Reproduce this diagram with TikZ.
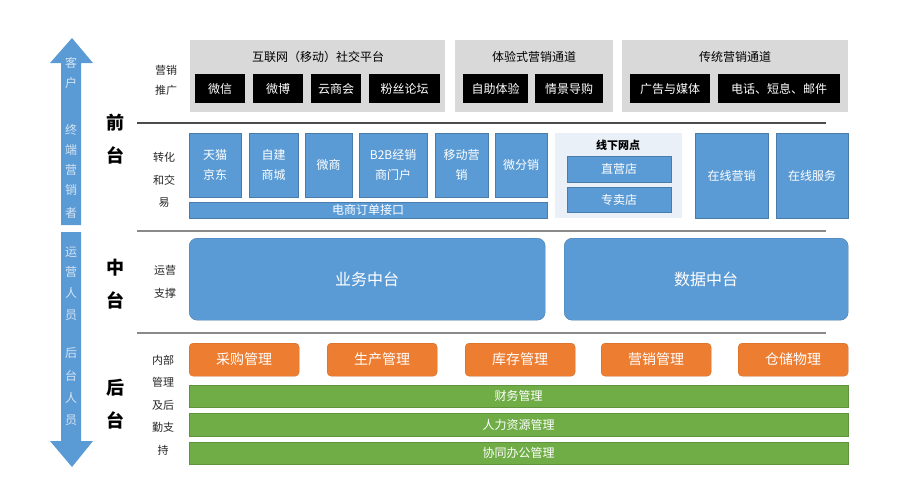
\documentclass[tikz,border=0pt]{standalone}
\usepackage{fontspec}
\setmainfont{Noto Sans CJK SC}
\usepackage{tikz}
\usetikzlibrary{positioning}
\definecolor{cBlue}{HTML}{5B9BD5}
\definecolor{cOrange}{HTML}{ED7D31}
\definecolor{cGreen}{HTML}{70AD47}
\definecolor{cChan}{HTML}{D9D9D9}
\definecolor{cPanel}{HTML}{E9F0F8}
\definecolor{cArrTxt}{HTML}{D4E4F4}
\definecolor{cRule}{HTML}{8A8A8A}

\begin{document}
\begin{tikzpicture}[
  x=1pt, y=-1pt,
  font=\fontsize{11}{13}\selectfont,
  cell/.style={anchor=north west, inner sep=0pt, align=center},
  chan/.style={cell, fill=cChan},
  chantitle/.style={font=\fontsize{12}{14}\selectfont},
  black/.style={cell, fill=black, text=white, font=\fontsize{12}{14}\selectfont},
  bluebox/.style={cell, fill=cBlue, text=white, draw=cBlue!80!black, line width=0.3pt, font=\fontsize{12}{20}\selectfont},
  bigblue/.style={cell, fill=cBlue, text=white, draw=cBlue!80!black, line width=0.4pt, rounded corners=8pt, font=\fontsize{16}{18}\selectfont},
  orangebox/.style={cell, fill=cOrange, text=white, draw=cOrange!85!black, line width=0.3pt, rounded corners=4pt, font=\fontsize{14}{16}\selectfont},
  greenbar/.style={cell, fill=cGreen, text=white, draw=cGreen!85!black, line width=0.3pt, font=\fontsize{12}{14}\selectfont},
  tier/.style={align=center, font=\fontsize{18}{33}\selectfont\bfseries},
  sublab/.style={align=center, text=black!85},
  arrtxt/.style={text=cArrTxt, font=\fontsize{12}{14}\selectfont},
  rule/.style={line width=1.4pt, cRule},
]
\useasboundingbox (0,0) rectangle (900,480);

% -- side arrows ---------------------------------------------------------
\fill[cBlue] (72,38) -- (93,63) -- (81,63) -- (81,225) -- (61,225) -- (61,63) -- (50,63) -- cycle;
\fill[cBlue] (61,232) -- (81,232) -- (81,441) -- (93,441) -- (72,467) -- (50,441) -- (61,441) -- cycle;
\foreach \ch/\yy [count=\i] in {客/63,户/83,终/130,端/150,营/170,销/190,者/213}
  \node[arrtxt] (up\i) at (71,\yy) {\ch};
\foreach \ch/\yy [count=\i] in {运/252,营/272,人/293,员/315,后/353,台/376,人/398,员/420}
  \node[arrtxt] (dn\i) at (71,\yy) {\ch};

% -- tier labels ---------------------------------------------------------
\node[tier] (front) at (115,139) {前\\台};
\node[tier] (middle) at (115,284) {中\\台};
\node[tier] (back) at (115,404) {后\\台};

\node[sublab, font=\fontsize{11}{20}\selectfont] (lpromo) at (166,80) {营销\\推广};
\node[sublab, font=\fontsize{11}{22.5}\selectfont] (ltrade) at (164,180) {转化\\和交\\易};
\node[sublab, font=\fontsize{11}{23}\selectfont] (lops) at (165,282) {运营\\支撑};
\node[sublab, font=\fontsize{11}{22.5}\selectfont] (linner) at (163,405) {内部\\管理\\及后\\勤支\\持};

% -- marketing channels --------------------------------------------------
\node[chan, minimum width=255, minimum height=72] (social) at (190,40) {};
\node[chan, minimum width=158, minimum height=72] (exper) at (455,40) {};
\node[chan, minimum width=226, minimum height=72] (trad) at (622,40) {};
\node[chantitle] (tsocial) at (318,57) {互联网（移动）社交平台};
\node[chantitle] (texper) at (534,57) {体验式营销通道};
\node[chantitle] (ttrad) at (735,57) {传统营销通道};

\node[black, minimum width=50, minimum height=29] (wx) at (195,74) {微信};
\node[black, minimum width=50, minimum height=29] (wb) at (253,74) {微博};
\node[black, minimum width=50, minimum height=29] (ysh) at (311,74) {云商会};
\node[black, minimum width=71, minimum height=29] (fans) at (369,74) {粉丝论坛};
\node[black, minimum width=65, minimum height=29] (self) at (463,74) {自助体验};
\node[black, minimum width=68, minimum height=29] (scene) at (535,74) {情景导购};
\node[black, minimum width=80, minimum height=29] (ad) at (630,74) {广告与媒体};
\node[black, minimum width=122, minimum height=29] (tel) at (718,74) {电话、短息、邮件};

% -- conversion and trade ------------------------------------------------
\node[bluebox, minimum width=52, minimum height=64] (tmall) at (189,133) {天猫\\京东};
\node[bluebox, minimum width=49, minimum height=64] (mall) at (249,133) {自建\\商城};
\node[bluebox, minimum width=47, minimum height=64] (wsh) at (305,133) {微商};
\node[bluebox, minimum width=68, minimum height=64] (b2b) at (359,133) {B2B经销\\商门户};
\node[bluebox, minimum width=53, minimum height=64] (mob) at (435,133) {移动营\\销};
\node[bluebox, minimum width=52, minimum height=64] (wfx) at (495,133) {微分销};
\node[bluebox, minimum width=358, minimum height=16, font=\fontsize{12}{14}\selectfont] (order) at (189,202) {电商订单接口};

\node[cell, fill=cPanel, minimum width=127, minimum height=85] (offline) at (555,133) {};
\node[font=\fontsize{11}{13}\selectfont\bfseries] (toffline) at (618,145) {线下网点};
\node[bluebox, minimum width=104, minimum height=26] (direct) at (567,156) {直营店};
\node[bluebox, minimum width=104, minimum height=25] (franch) at (567,187) {专卖店};

\node[bluebox, minimum width=73, minimum height=85] (olmkt) at (695,133) {在线营销};
\node[bluebox, minimum width=72, minimum height=85] (olsvc) at (776,133) {在线服务};

% -- operations support --------------------------------------------------
\node[bigblue, minimum width=356, minimum height=82] (biz) at (189,238) {业务中台};
\node[bigblue, minimum width=284, minimum height=82] (data) at (564,238) {数据中台};

% -- internal management -------------------------------------------------
\node[orangebox, minimum width=110, minimum height=33] (buy) at (189,343) {采购管理};
\node[orangebox, minimum width=110, minimum height=33] (prod) at (327,343) {生产管理};
\node[orangebox, minimum width=110, minimum height=33] (stock) at (465,343) {库存管理};
\node[orangebox, minimum width=110, minimum height=33] (mkt) at (601,343) {营销管理};
\node[orangebox, minimum width=110, minimum height=33] (store) at (738,343) {仓储物理};

\node[greenbar, minimum width=659, minimum height=22] (fin) at (189,385) {财务管理};
\node[greenbar, minimum width=659, minimum height=23] (hr) at (189,413) {人力资源管理};
\node[greenbar, minimum width=659, minimum height=22] (office) at (189,442) {协同办公管理};

% -- rules ---------------------------------------------------------------
\coordinate (r1a) at (137,123); \coordinate (r1b) at (826,123);
\coordinate (r2a) at (137,231); \coordinate (r2b) at (826,231);
\coordinate (r3a) at (137,333); \coordinate (r3b) at (826,333);
\draw[rule, black!70] (r1a) -- (r1b);
\draw[rule] (r2a) -- (r2b);
\draw[rule] (r3a) -- (r3b);
\end{tikzpicture}
\end{document}
